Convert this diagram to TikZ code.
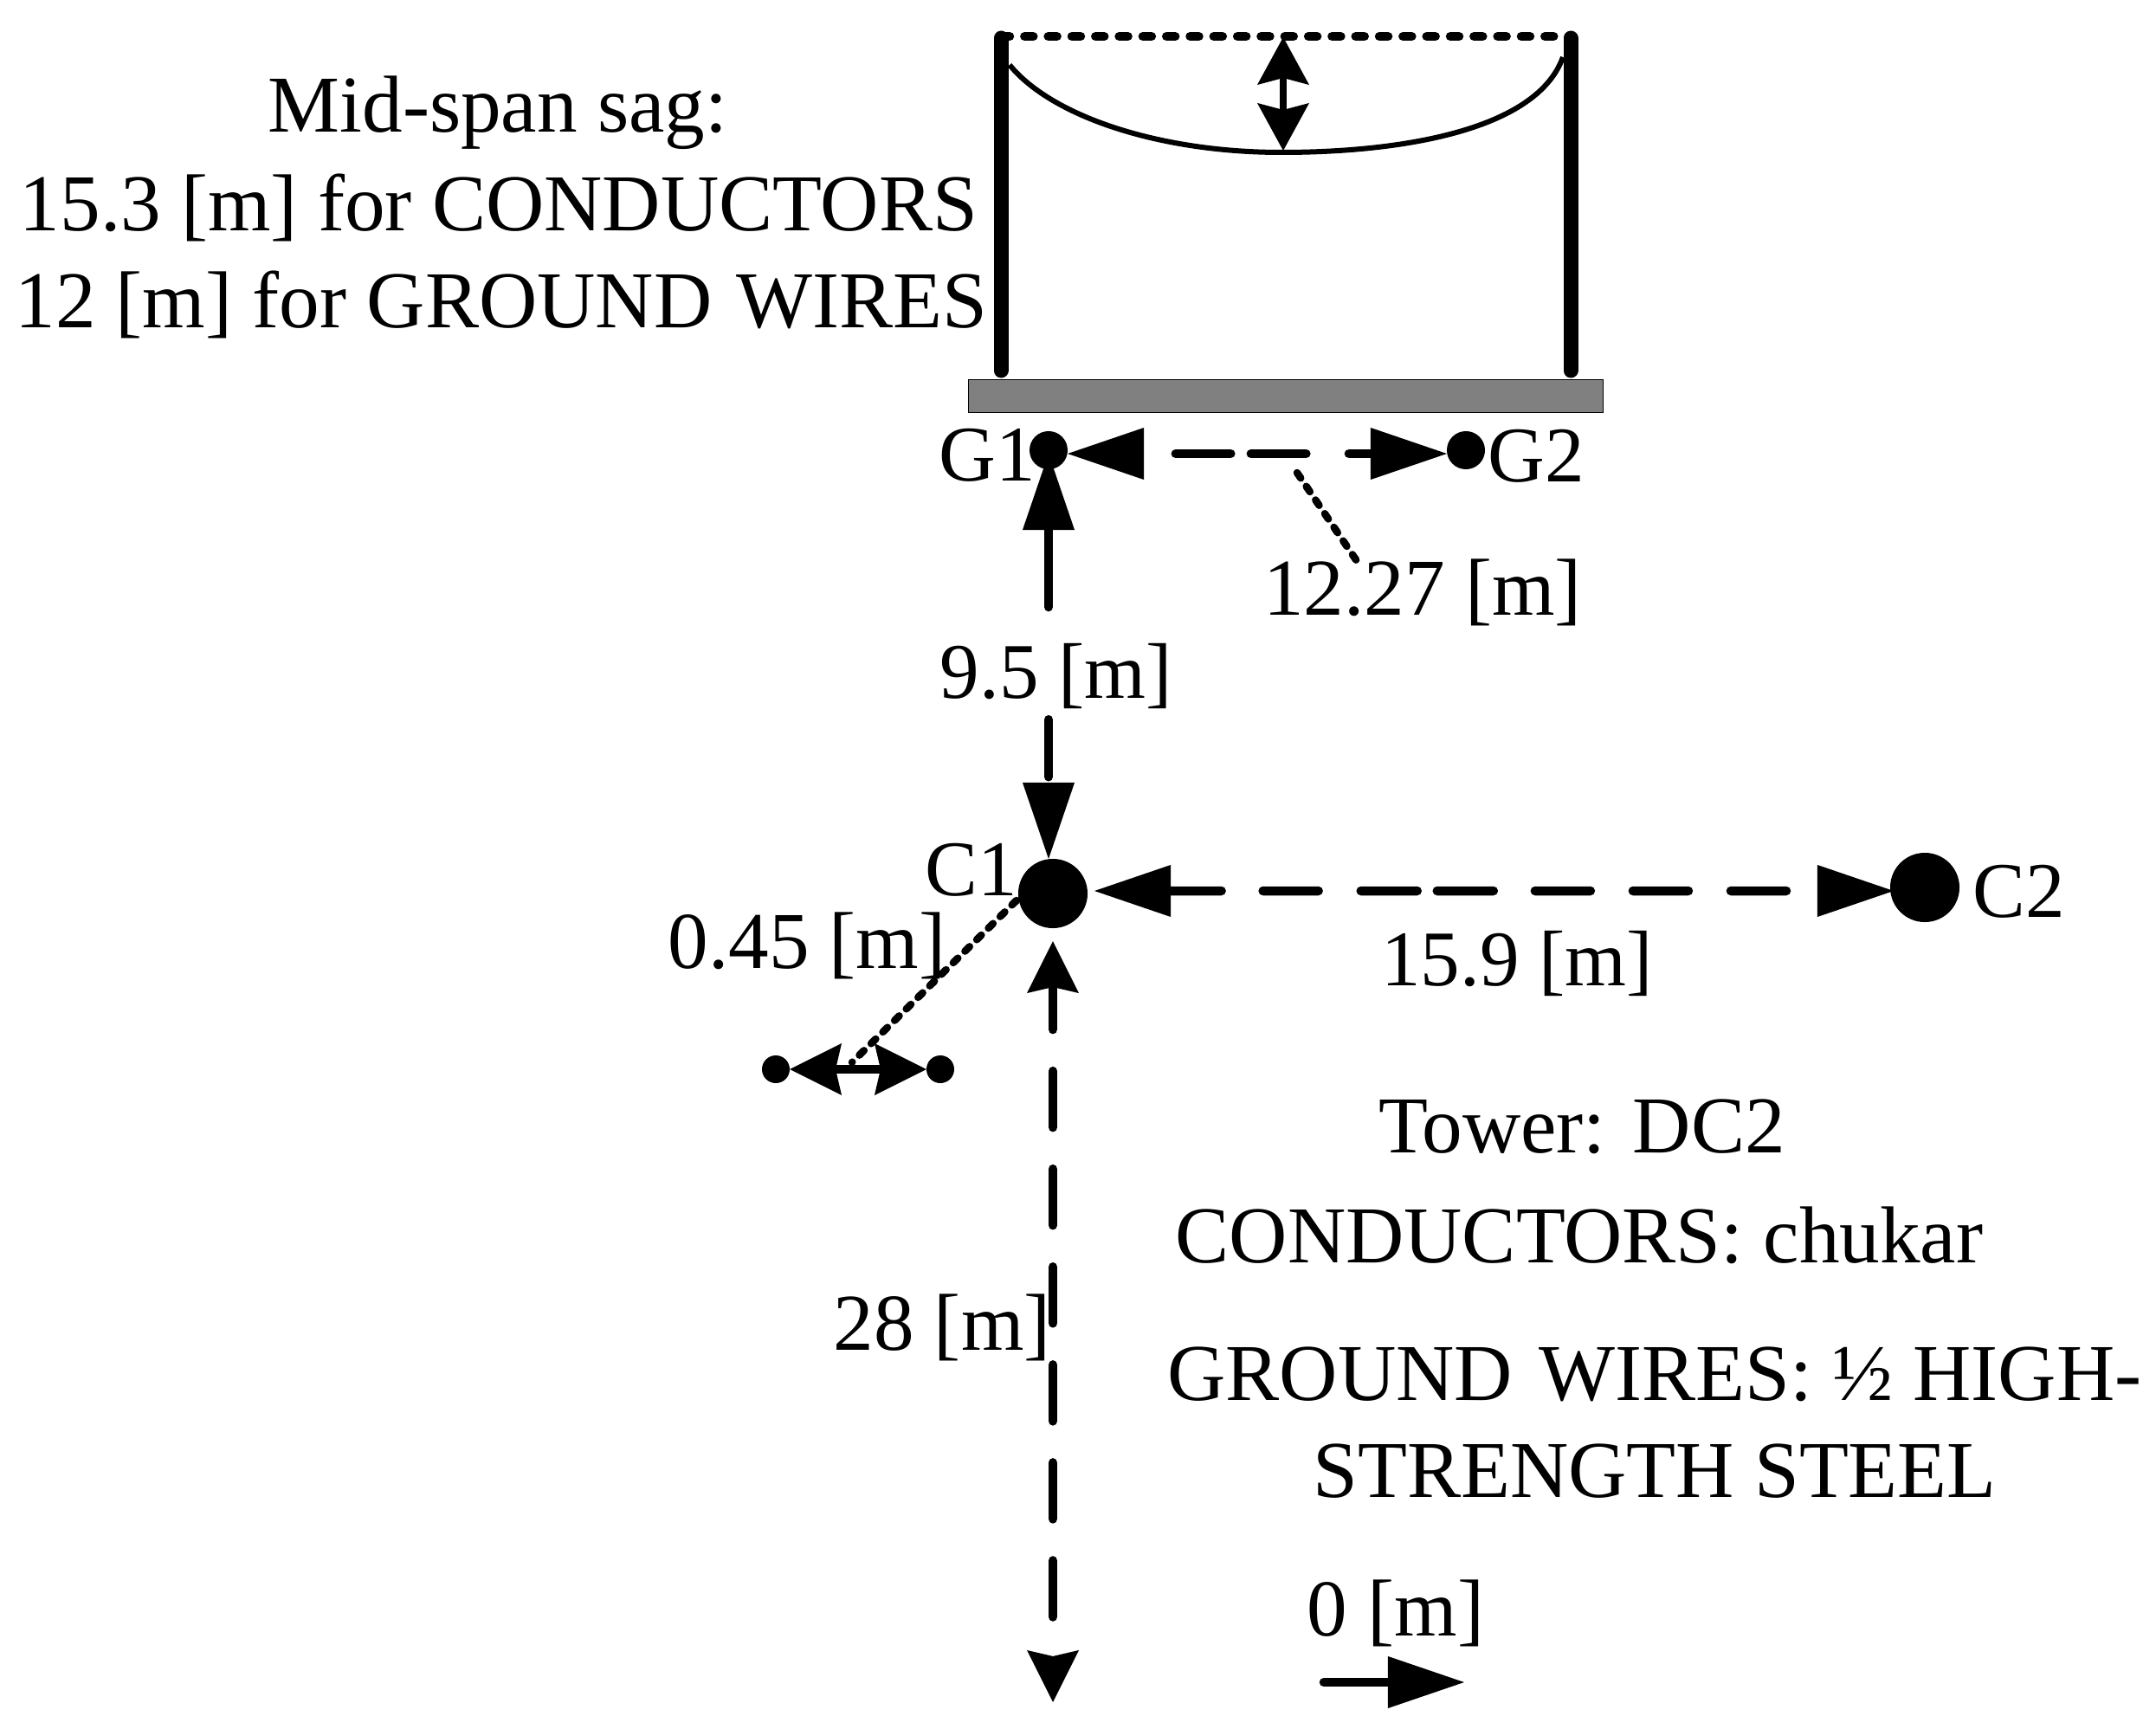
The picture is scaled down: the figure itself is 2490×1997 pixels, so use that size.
\documentclass[tikz,border=0pt]{standalone}
\usepackage{fontspec}
\setmainfont{Liberation Serif}
\usetikzlibrary{arrows.meta}
\tikzset{
  lbl/.style={anchor=base,inner sep=0pt,outer sep=0pt,font=\fontsize{26.5}{30}\selectfont},
  shortlbl/.style={lbl,font=\fontsize{25.9}{30}\selectfont},
  bigdot/.style={circle,fill=black,inner sep=0pt,outer sep=0pt,minimum size=8mm},
  middot/.style={circle,fill=black,inner sep=0pt,outer sep=0pt,minimum size=4.4mm},
  smalldot/.style={circle,fill=black,inner sep=0pt,outer sep=0pt,minimum size=3.2mm},
  tower/.style={line width=1.7mm,line cap=round},
  cable/.style={line width=.6mm},
  leader/.style={line width=.85mm,line cap=round,dash pattern=on .75mm off 1.15mm},
  flat/.tip={Triangle[length=8.8mm,width=6mm,line width=0pt]},
  conc/.tip={Stealth[length=6mm,width=6mm,inset=.7mm,line width=0pt]},
  dim/.style={line width=1.05mm,line cap=round},
}
\begin{document}
\begin{tikzpicture}[x=0.01cm,y=-0.01cm]
\useasboundingbox (0,0) rectangle (2490,1997);
% towers and span
\coordinate (t1a) at (1156,44); \coordinate (t1b) at (1156,428);
\coordinate (t2a) at (1814,44); \coordinate (t2b) at (1814,428);
\draw[tower] (t1a) -- (t1b);
\draw[tower] (t2a) -- (t2b);
\coordinate (d1) at (1156,42); \coordinate (d2) at (1814,42);
\draw[line width=1.05mm,line cap=round,dash pattern=on 1mm off 1.73mm] (d1) -- (d2);
\coordinate (s1) at (1166,75); \coordinate (s2) at (1480,176); \coordinate (s3) at (1805,66);
\draw[cable] (s1) .. controls (1215,135) and (1340,176) .. (s2) .. controls (1620,176) and (1775,150) .. (s3);
\coordinate (a1) at (1482,43); \coordinate (a2) at (1482,174);
\draw[line width=.8mm,{Stealth[length=5.5mm,width=6mm,inset=.8mm,line width=0pt]}-{Stealth[length=5.5mm,width=6mm,inset=.8mm,line width=0pt]}] (a1) -- (a2);
\node[draw=black,line width=.1mm,fill=black!50,minimum width=7.32cm,minimum height=.375cm,inner sep=0pt,outer sep=0pt] (bar) at (1485,457.75) {};
% dots
\node[middot] (g1) at (1211,520) {};
\node[middot] (g2) at (1693,520) {};
\node[bigdot] (c1) at (1216,1032) {};
\node[bigdot] (c2) at (2223,1025) {};
\node[smalldot] (b1) at (896,1235) {};
\node[smalldot] (b2) at (1086,1235) {};
% dimension lines
\draw[dim,dash pattern=on 6.35mm off 2.35mm on 6.35mm off 4.95mm on 10mm off 3.67mm,dash phase=30mm,{flat}-{flat}] ([yshift=-.4mm]g1.east) -- ([yshift=-.4mm]g2.west);
\coordinate (g1v) at (g1 |- c1.north);
\draw[dim,dash pattern=on 8.9mm off 13mm on 6.6mm off 20mm,{flat}-{flat}] ([yshift=1.8mm]g1.south) -- (g1v);
\draw[dim,dash pattern=on 5.85mm off 4.8mm on 6.4mm off 4.9mm on 6.5mm off 2.3mm on 6.5mm off 4.8mm on 6.4mm off 4.9mm on 6.4mm off 4.9mm on 6.4mm off 10mm,{flat}-{flat}] ([xshift=.8mm,yshift=.3mm]c1.east) -- ([xshift=.4mm,yshift=-.4mm]c2.west);
\coordinate (bot) at (1216,1966);
\draw[dim,dash pattern=on 6.5mm off 4.8mm,dash phase=1.6mm,{conc}-{conc}] ([yshift=-1.5mm]c1.south) -- (bot);
\draw[line width=1mm,{conc}-{conc}] (b1) -- (b2);
\coordinate (ax0) at (1529,1943); \coordinate (ax1) at (1691,1943);
\draw[dim,-{flat}] (ax0) -- (ax1);
% leaders
\coordinate (l1) at (1498,546); \coordinate (l2) at (1567,648);
\draw[leader] (l1) -- (l2);
\coordinate (l3) at (984,1227);
\draw[leader] (c1) ++(-42,8) -- (l3);
% labels
\node[lbl] (t1) at (575,153) {Mid-span sag:};
\node[lbl] (t2) at (576,267) {15.3 [m] for CONDUCTORS};
\node[lbl] (t3) at (579,379) {12 [m] for GROUND\hspace{.05cm} WIRES};
\node[shortlbl] (tg1) at (1140,555) {G1};
\node[shortlbl] (tg2) at (1774,556) {G2};
\node[lbl] (t127) at (1643,710) {12.27 [m]};
\node[shortlbl] (t95) at (1220,806) {9.5 [m]};
\node[shortlbl] (tc1) at (1122,1034) {C1};
\node[lbl] (t045) at (932,1118) {0.45 [m]};
\node[shortlbl] (tc2) at (2332,1059) {C2};
\node[shortlbl] (t159) at (1752,1138) {15.9 [m]};
\node[lbl] (t28) at (1088,1559) {28 [m]};
\node[lbl] (tw) at (1827,1331) {Tower: DC2};
\node[lbl] (tc) at (1824,1458) {CONDUCTORS: chukar};
\node[lbl] (tgw) at (1911,1617) {GROUND\hspace{.07cm} WIRES: ½ HIGH-};
\node[lbl] (ts) at (1911,1729) {STRENGTH STEEL};
\node[lbl] (t0) at (1612,1889) {0 [m]};
\end{tikzpicture}
\end{document}
